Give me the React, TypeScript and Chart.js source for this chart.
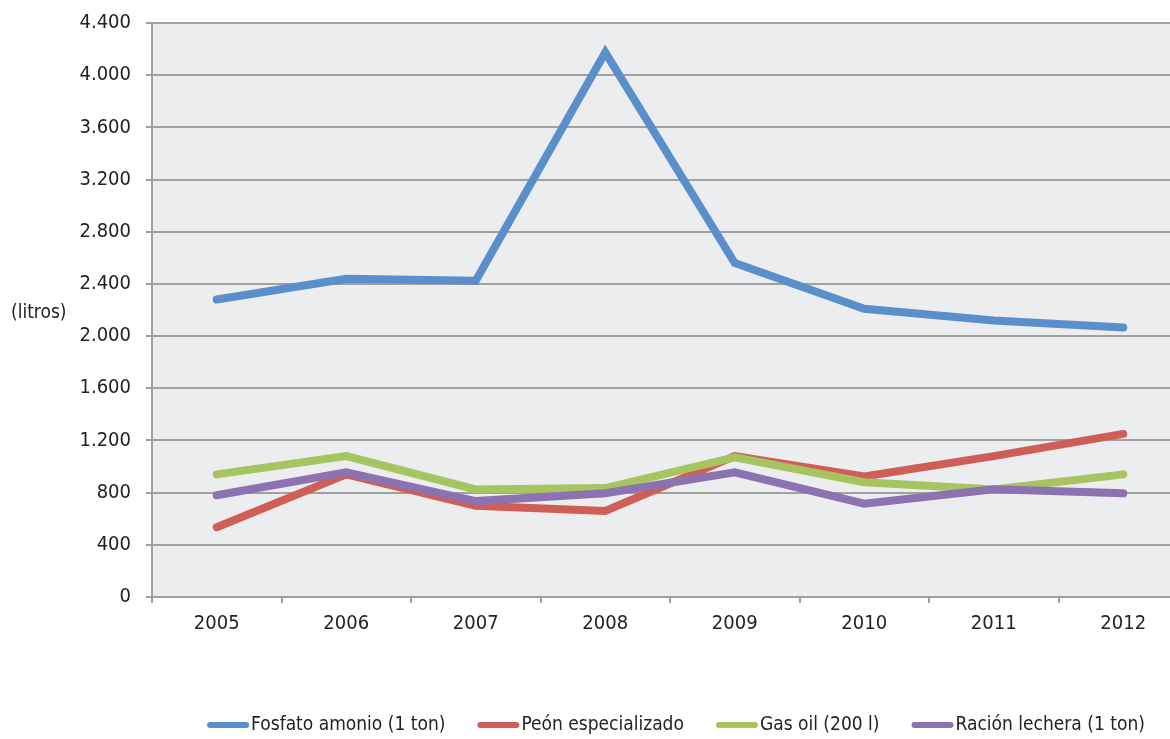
import React, { useEffect, useRef } from "react";
import { Chart, registerables } from "chart.js";

Chart.register(...registerables);

const years = ["2005", "2006", "2007", "2008", "2009", "2010", "2011", "2012"];
const fosfato = [2280, 2440, 2425, 4175, 2560, 2210, 2120, 2065];
const peon = [535, 940, 700, 660, 1080, 925, 1080, 1250];
const gasoil = [940, 1080, 825, 835, 1070, 880, 825, 940];
const racion = [780, 955, 735, 795, 955, 715, 825, 795];
const seriesNames = ["Fosfato amonio (1 ton)", "Peón especializado", "Gas oil (200 l)", "Ración lechera (1 ton)"];
const yAxisTitle = "(litros)";

const FONT = '"DejaVu Sans Condensed", "Liberation Sans Narrow", sans-serif';
const colors = ["#5A8FCB", "#CF5F56", "#A6C45F", "#8C72B0"];

function fmt(v: number) {
  return String(v).replace(/\B(?=(\d{3})+(?!\d))/g, ".");
}

const bgPlugin = {
  id: "bgPlugin",
  beforeDraw(chart: any) {
    const { ctx, chartArea } = chart;
    ctx.save();
    ctx.fillStyle = "#ECEDEF";
    ctx.fillRect(chartArea.left, chartArea.top, chartArea.right - chartArea.left, chartArea.bottom - chartArea.top);
    ctx.restore();
  },
  afterDraw(chart: any) {
    const { ctx, chartArea } = chart;
    ctx.save();
    ctx.font = `19px ${FONT}`;
    ctx.fillStyle = "#222222";
    ctx.textBaseline = "middle";
    ctx.textAlign = "left";
    ctx.fillText(yAxisTitle, 11, (chartArea.top + chartArea.bottom) / 2 + 3);

    // legend
    const ds = chart.data.datasets;
    const markerW = 42;
    const gapText = 2;
    const itemGap = 32;
    const widths = ds.map((d: any) => ctx.measureText(d.label).width);
    let total = 0;
    widths.forEach((w: number, i: number) => {
      total += markerW + gapText + w + (i < widths.length - 1 ? itemGap : 0);
    });
    let x = (chartArea.left + chartArea.right) / 2 + 6 - total / 2;
    const y = 725;
    ds.forEach((d: any, i: number) => {
      ctx.strokeStyle = d.borderColor;
      ctx.lineWidth = 6;
      ctx.lineCap = "round";
      ctx.beginPath();
      ctx.moveTo(x + 3, y);
      ctx.lineTo(x + markerW - 3, y);
      ctx.stroke();
      ctx.fillStyle = "#222222";
      ctx.fillText(d.label, x + markerW + gapText, y);
      x += markerW + gapText + widths[i] + itemGap;
    });
    ctx.restore();
  },
};

export default function App() {
  const ref = useRef<HTMLCanvasElement | null>(null);
  useEffect(() => {
    if (!ref.current) return;
    const seriesData = [fosfato, peon, gasoil, racion];
    const orders = [3, 2, 1, 0];
    const chart = new Chart(ref.current, {
      type: "line",
      data: {
        labels: years,
        datasets: seriesData.map((d, i) => ({
          label: seriesNames[i],
          data: d,
          borderColor: colors[i],
          backgroundColor: colors[i],
          borderWidth: 8,
          borderCapStyle: "round",
          borderJoinStyle: "miter",
          pointRadius: 0,
          tension: 0,
          order: orders[i],
        })),
      },
      options: {
        animation: false,
        responsive: false,
        maintainAspectRatio: false,
        layout: { padding: { top: 23, right: 12, left: 0, bottom: 0 } },
        plugins: { legend: { display: false }, tooltip: { enabled: false } },
        scales: {
          x: {
            type: "category",
            offset: true,
            grid: {
              offset: true,
              drawOnChartArea: false,
              drawTicks: true,
              tickLength: 6,
              color: "#A0A0A0",
              lineWidth: 2,
            },
            border: { display: true, color: "#A0A0A0", width: 2 },
            ticks: {
              color: "#222222",
              font: { family: FONT, size: 20 },
              padding: 9,
              maxRotation: 0,
            },
            afterFit(scale: any) {
              scale.height = 142;
              scale.paddingLeft = 0;
              scale.paddingRight = 0;
            },
          },
          y: {
            min: 0,
            max: 4400,
            ticks: {
              stepSize: 400,
              color: "#222222",
              font: { family: FONT, size: 20 },
              padding: 15,
              callback: (v: any) => fmt(Number(v)),
            },
            grid: {
              color: "#A0A0A0",
              lineWidth: 2,
              tickLength: 6,
              drawTicks: true,
            },
            border: { display: true, color: "#A0A0A0", width: 2 },
            afterFit(scale: any) {
              scale.width = 152;
              scale.paddingTop = 0;
              scale.paddingBottom = 0;
            },
          },
        },
      },
      plugins: [bgPlugin],
    } as any);
    return () => chart.destroy();
  }, []);
  return (
    <div style={{ position: "fixed", left: 0, top: 0, width: 1170, height: 739, overflow: "hidden", background: "#fff" }}>
      <canvas ref={ref} width={1200} height={739} style={{ display: "block", width: 1200, height: 739 }} />
    </div>
  );
}
